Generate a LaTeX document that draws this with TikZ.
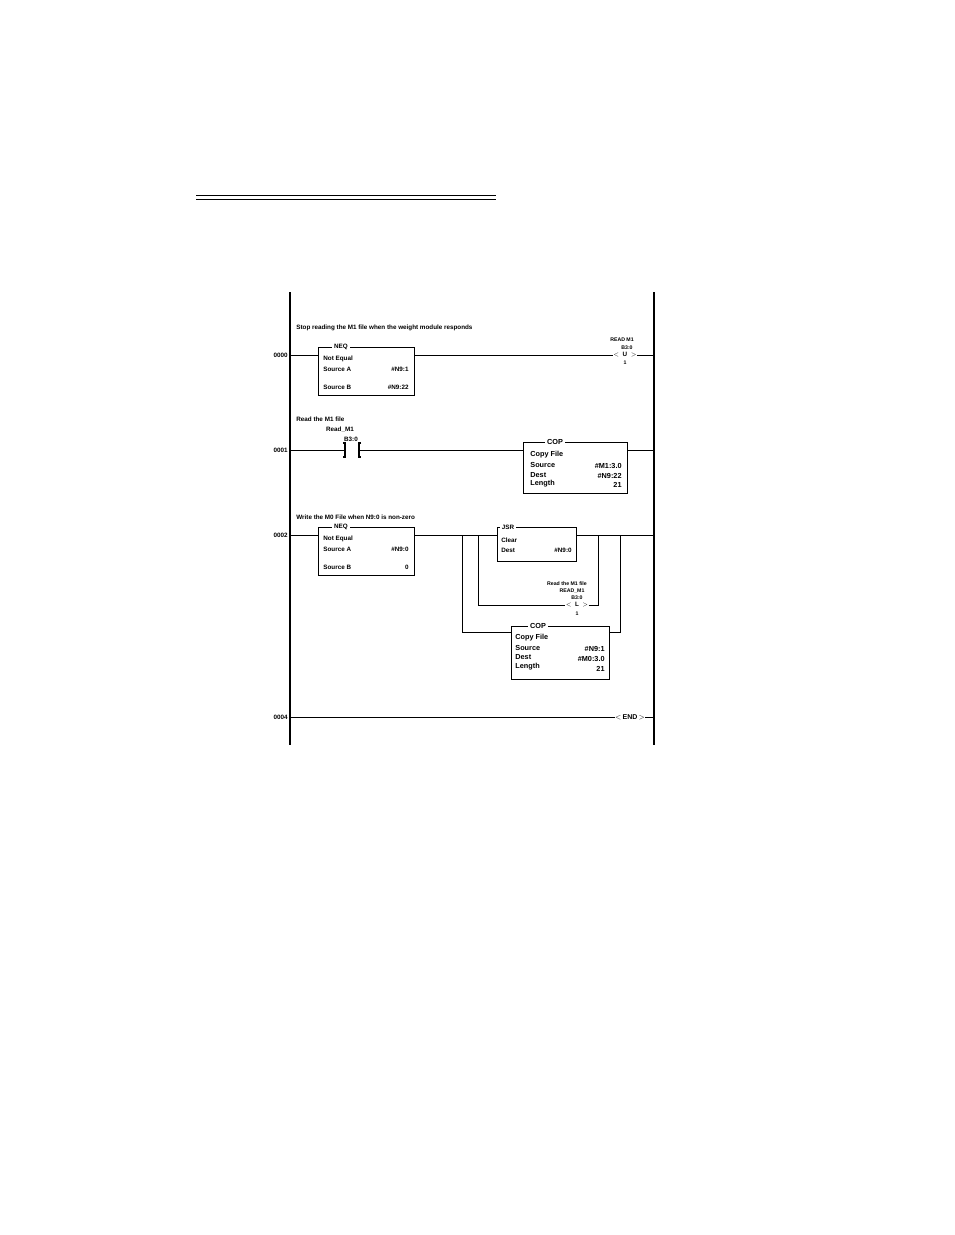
\documentclass[tikz,border=0pt]{standalone}
\usepackage{fontspec}
\setmainfont{Liberation Sans}
\begin{document}
\begin{tikzpicture}[x=1pt,y=-1pt,line width=0.8pt,
  txt/.style={font=\bfseries\fontsize{6.3}{7}\selectfont,inner sep=0pt},
  big/.style={font=\bfseries\fontsize{7.3}{8}\selectfont,inner sep=0pt},
  sm/.style={font=\bfseries\fontsize{5.2}{6}\selectfont,inner sep=0pt},
  boxs/.style={draw,line width=0.8pt,fill=white},
  rail/.style={line width=2.6pt}]
\useasboundingbox (0,0) rectangle (954,1235);
\draw[line width=0.7pt] (196,195) -- (496,195) (196,199) -- (496,199);
% rails
\coordinate (lt) at (290,292); \coordinate (lb) at (290,745);
\coordinate (rt) at (654,292); \coordinate (rb) at (654,745);
\draw[rail] (lt) -- (lb); \draw[rail] (rt) -- (rb);
% rung 0000
\node[txt,anchor=west] (c0) at (296,328) {Stop reading the M1 file when the weight module responds};
\node[txt,anchor=east] (n0) at (288,355) {0000};
\node[boxs,minimum width=96pt,minimum height=48pt,anchor=north west] (neq0) at (318,347) {};
\node[txt,fill=white,inner xsep=2pt] (neq0t) at (341,347) {NEQ};
\node[txt,anchor=west] at (323,359) {Not Equal};
\node[txt,anchor=west] at (323,369) {Source A};
\node[txt,anchor=east] at (409,369) {\#N9:1};
\node[txt,anchor=west] at (323,387) {Source B};
\node[txt,anchor=east] at (409,387) {\#N9:22};
\node[txt] (u0) at (625,355) {$<$\ \ U\ \ $>$};
\node[sm] at (622,340) {READ M1};
\node[sm] at (627,348) {B3:0};
\node[sm] at (625,363) {1};
\draw (290,355) -- (neq0.west|-n0) (neq0.east|-n0) -- (u0.west) (u0.east) -- (654,355);
% rung 0001
\node[txt,anchor=west] at (296,419) {Read the M1 file};
\node[txt] at (340,430) {Read\_M1};
\node[txt] at (351,439) {B3:0};
\node[txt,anchor=east] (n1) at (288,450) {0001};
\coordinate (ca) at (345,450); \coordinate (cb) at (359,450);
\draw[line width=1.3pt] (343,443) -- (345,443) -- (345,457) -- (343,457);
\draw[line width=1.3pt] (361,443) -- (359,443) -- (359,457) -- (361,457);
\node[boxs,minimum width=104pt,minimum height=51pt,anchor=north west] (cop1) at (523,442) {};
\node[big,fill=white,inner xsep=2pt] at (555,442) {COP};
\node[big,anchor=west] at (530,455) {Copy File};
\node[big,anchor=west] at (530,465) {Source};
\node[big,anchor=east] at (622,466) {\#M1:3.0};
\node[big,anchor=west] at (530,475) {Dest};
\node[big,anchor=east] at (622,476) {\#N9:22};
\node[big,anchor=west] at (530,484) {Length};
\node[big,anchor=east] at (622,485) {21};
\draw (290,450) -- (ca) (cb) -- (cop1.west|-n1) (cop1.east|-n1) -- (654,450);
% rung 0002
\node[txt,anchor=west] at (296,517) {Write the M0 File when N9:0 is non-zero};
\node[txt,anchor=east] (n2) at (288,535) {0002};
\node[boxs,minimum width=96pt,minimum height=48pt,anchor=north west] (neq2) at (318,527) {};
\node[txt,fill=white,inner xsep=2pt] at (341,527) {NEQ};
\node[txt,anchor=west] at (323,539) {Not Equal};
\node[txt,anchor=west] at (323,549) {Source A};
\node[txt,anchor=east] at (409,549) {\#N9:0};
\node[txt,anchor=west] at (323,567) {Source B};
\node[txt,anchor=east] at (409,567) {0};
\node[boxs,minimum width=79pt,minimum height=34pt,anchor=north west] (jsr) at (497,527) {};
\node[txt,fill=white,inner xsep=2pt] at (508,527) {JSR};
\node[txt,anchor=west] at (501,540) {Clear};
\node[txt,anchor=west] at (501,550) {Dest};
\node[txt,anchor=east] at (572,550) {\#N9:0};
\node[sm] at (567,584) {Read the M1 file};
\node[sm] at (572,591) {READ\_M1};
\node[sm] at (577,598) {B3:0};
\node[txt] (lc) at (577,605) {$<$\ \ L\ \ $>$};
\node[sm] at (577,614) {1};
\node[boxs,minimum width=98pt,minimum height=53pt,anchor=north west] (cop2) at (511,626) {};
\node[big,fill=white,inner xsep=2pt] at (538,626) {COP};
\node[big,anchor=west] at (515,638) {Copy File};
\node[big,anchor=west] at (515,648) {Source};
\node[big,anchor=east] at (605,649) {\#N9:1};
\node[big,anchor=west] at (515,657) {Dest};
\node[big,anchor=east] at (605,659) {\#M0:3.0};
\node[big,anchor=west] at (515,667) {Length};
\node[big,anchor=east] at (605,669) {21};
\draw (290,535) -- (neq2.west|-n2) (neq2.east|-n2) -- (jsr.west|-n2) (jsr.east|-n2) -- (654,535);
\draw (478,535) -- (478,605) -- (lc.west) (lc.east) -- (598,605) -- (598,535);
\draw (462,535) -- (462,632) -- (cop2.west|-0,632) (cop2.east|-0,632) -- (620,632) -- (620,535);
% rung 0004
\node[txt,anchor=east] (n4) at (288,717) {0004};
\node[sm] (endc) at (630,717) {\fontsize{7}{8}\selectfont$<$\,END\,$>$};
\draw (290,717) -- (endc.west) (endc.east) -- (654,717);
\end{tikzpicture}
\end{document}
